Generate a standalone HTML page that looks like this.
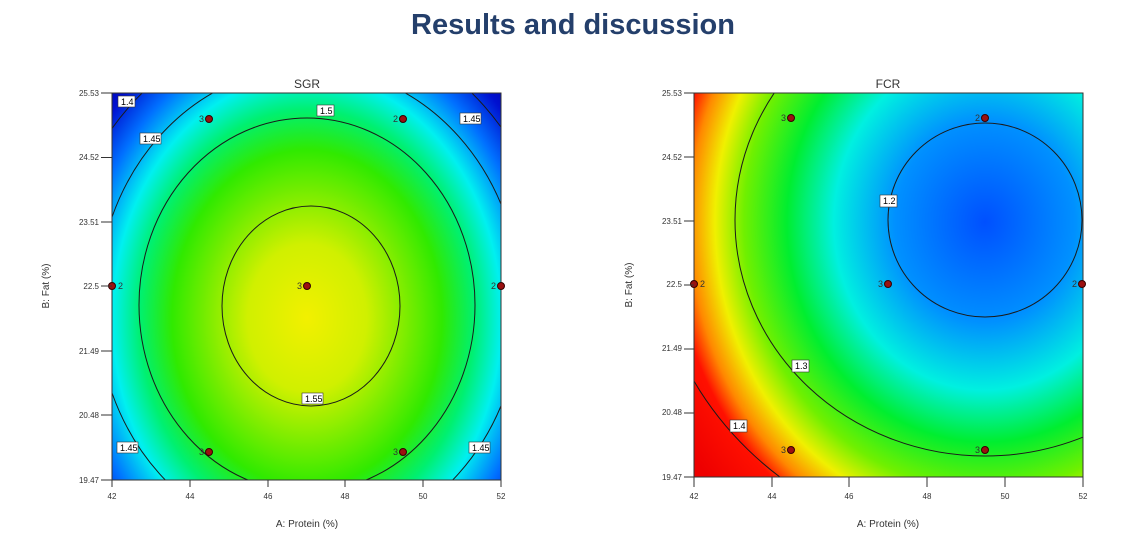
<!DOCTYPE html>
<html><head><meta charset="utf-8"><style>
html,body{margin:0;padding:0;background:#fff;width:1128px;height:541px;overflow:hidden;}
svg{display:block;font-family:"Liberation Sans",sans-serif;}
</style></head><body>
<svg width="1128" height="541" viewBox="0 0 1128 541" xmlns="http://www.w3.org/2000/svg">
<defs>
<radialGradient id="gl" gradientUnits="userSpaceOnUse" cx="307" cy="318" r="300" gradientTransform="translate(307 318) scale(0.9 1.12) translate(-307 -318)">
<stop offset="0" stop-color="#f2f000"/>
<stop offset="0.22" stop-color="#d0f000"/>
<stop offset="0.5" stop-color="#30ea00"/>
<stop offset="0.62" stop-color="#00f070"/>
<stop offset="0.72" stop-color="#00f0f0"/>
<stop offset="0.84" stop-color="#0070ff"/>
<stop offset="0.95" stop-color="#0010d0"/>
<stop offset="1" stop-color="#0008b8"/>
</radialGradient>
<radialGradient id="gr" gradientUnits="userSpaceOnUse" cx="985" cy="222" r="400" gradientTransform="translate(985 222) scale(0.9 1) translate(-985 -222)">
<stop offset="0" stop-color="#0050ff"/>
<stop offset="0.25" stop-color="#0090ff"/>
<stop offset="0.42" stop-color="#00f0e0"/>
<stop offset="0.55" stop-color="#00ee30"/>
<stop offset="0.67" stop-color="#70f000"/>
<stop offset="0.75" stop-color="#f0f000"/>
<stop offset="0.82" stop-color="#ff8800"/>
<stop offset="0.87" stop-color="#ff1000"/>
<stop offset="1" stop-color="#ee0000"/>
</radialGradient>
<clipPath id="cl"><rect x="112" y="93" width="389" height="387"/></clipPath>
<clipPath id="cr"><rect x="694" y="93" width="389" height="384"/></clipPath>
</defs>
<text x="573" y="34" text-anchor="middle" font-size="29" font-weight="bold" fill="#243f6b">Results and discussion</text>

<!-- LEFT -->
<text x="307" y="88" text-anchor="middle" font-size="12" fill="#333">SGR</text>
<rect x="112" y="93" width="389" height="387" fill="url(#gl)"/>
<g clip-path="url(#cl)" fill="none" stroke="#1a1a1a" stroke-width="1">
<ellipse cx="311" cy="306" rx="89" ry="100"/>
<ellipse cx="307" cy="305" rx="168" ry="187"/>
<ellipse cx="309" cy="305" rx="212" ry="238"/>
<ellipse cx="307" cy="305" rx="250" ry="282"/>
</g>
<rect x="112" y="93" width="389" height="387" fill="none" stroke="#333" stroke-width="1"/>
<g font-size="9" fill="#000">
<rect x="118" y="96" width="17" height="11" fill="#fff" stroke="#333" stroke-width="0.6"/><text x="121" y="105">1.4</text>
<rect x="140" y="133" width="21" height="11" fill="#fff" stroke="#333" stroke-width="0.6"/><text x="143" y="142">1.45</text>
<rect x="317" y="105" width="17" height="11" fill="#fff" stroke="#333" stroke-width="0.6"/><text x="320" y="114">1.5</text>
<rect x="460" y="113" width="21" height="11" fill="#fff" stroke="#333" stroke-width="0.6"/><text x="463" y="122">1.45</text>
<rect x="302" y="393" width="21" height="11" fill="#fff" stroke="#333" stroke-width="0.6"/><text x="305" y="402">1.55</text>
<rect x="117" y="442" width="21" height="11" fill="#fff" stroke="#333" stroke-width="0.6"/><text x="120" y="451">1.45</text>
<rect x="469" y="442" width="21" height="11" fill="#fff" stroke="#333" stroke-width="0.6"/><text x="472" y="451">1.45</text>
</g>
<g fill="#9b1010" stroke="#300" stroke-width="1">
<circle cx="209" cy="119" r="3.5"/><circle cx="403" cy="119" r="3.5"/><circle cx="112" cy="286" r="3.5"/><circle cx="307" cy="286" r="3.5"/><circle cx="501" cy="286" r="3.5"/><circle cx="209" cy="452" r="3.5"/><circle cx="403" cy="452" r="3.5"/>
</g>
<g font-size="9" fill="#333">
<text x="199" y="122">3</text><text x="393" y="122">2</text><text x="118" y="289">2</text><text x="297" y="289">3</text><text x="491" y="289">2</text><text x="199" y="455">3</text><text x="393" y="455">3</text>
</g>
<g font-size="8" fill="#333" text-anchor="end">
<text x="99" y="96">25.53</text><text x="99" y="160">24.52</text><text x="99" y="225">23.51</text><text x="99" y="289">22.5</text><text x="99" y="354">21.49</text><text x="99" y="418">20.48</text><text x="99" y="483">19.47</text>
</g>
<g stroke="#333"><line x1="101" y1="93" x2="112" y2="93"/><line x1="101" y1="157.5" x2="112" y2="157.5"/><line x1="101" y1="222" x2="112" y2="222"/><line x1="101" y1="286" x2="112" y2="286"/><line x1="101" y1="351" x2="112" y2="351"/><line x1="101" y1="415" x2="112" y2="415"/><line x1="101" y1="480" x2="112" y2="480"/>
<line x1="112" y1="480" x2="112" y2="487"/><line x1="190" y1="480" x2="190" y2="487"/><line x1="268" y1="480" x2="268" y2="487"/><line x1="345" y1="480" x2="345" y2="487"/><line x1="423" y1="480" x2="423" y2="487"/><line x1="501" y1="480" x2="501" y2="487"/></g>
<g font-size="8" fill="#333" text-anchor="middle">
<text x="112" y="499">42</text><text x="190" y="499">44</text><text x="268" y="499">46</text><text x="345" y="499">48</text><text x="423" y="499">50</text><text x="501" y="499">52</text>
</g>
<text x="307" y="527" text-anchor="middle" font-size="10" fill="#333">A: Protein (%)</text>
<text transform="translate(49 286) rotate(-90)" text-anchor="middle" font-size="10" fill="#333">B: Fat (%)</text>

<!-- RIGHT -->
<text x="888" y="88" text-anchor="middle" font-size="12" fill="#333">FCR</text>
<rect x="694" y="93" width="389" height="384" fill="url(#gr)"/>
<g clip-path="url(#cr)" fill="none" stroke="#1a1a1a" stroke-width="1">
<circle cx="985" cy="220" r="97"/>
<ellipse cx="985" cy="220" rx="250" ry="236"/>
<ellipse cx="985" cy="220" rx="335" ry="325"/>
</g>
<rect x="694" y="93" width="389" height="384" fill="none" stroke="#333" stroke-width="1"/>
<g font-size="9" fill="#000">
<rect x="880" y="195" width="17" height="12" fill="#fff" stroke="#333" stroke-width="0.6"/><text x="883" y="204">1.2</text>
<rect x="792" y="360" width="17" height="12" fill="#fff" stroke="#333" stroke-width="0.6"/><text x="795" y="369">1.3</text>
<rect x="730" y="420" width="17" height="12" fill="#fff" stroke="#333" stroke-width="0.6"/><text x="733" y="429">1.4</text>
</g>
<g fill="#9b1010" stroke="#300" stroke-width="1">
<circle cx="791" cy="118" r="3.5"/><circle cx="985" cy="118" r="3.5"/><circle cx="694" cy="284" r="3.5"/><circle cx="888" cy="284" r="3.5"/><circle cx="1082" cy="284" r="3.5"/><circle cx="791" cy="450" r="3.5"/><circle cx="985" cy="450" r="3.5"/>
</g>
<g font-size="9" fill="#333">
<text x="781" y="121">3</text><text x="975" y="121">2</text><text x="700" y="287">2</text><text x="878" y="287">3</text><text x="1072" y="287">2</text><text x="781" y="453">3</text><text x="975" y="453">3</text>
</g>
<g font-size="8" fill="#333" text-anchor="end">
<text x="682" y="96">25.53</text><text x="682" y="160">24.52</text><text x="682" y="224">23.51</text><text x="682" y="287">22.5</text><text x="682" y="351">21.49</text><text x="682" y="415">20.48</text><text x="682" y="480">19.47</text>
</g>
<g stroke="#333"><line x1="684" y1="93" x2="694" y2="93"/><line x1="684" y1="157" x2="694" y2="157"/><line x1="684" y1="221" x2="694" y2="221"/><line x1="684" y1="285" x2="694" y2="285"/><line x1="684" y1="349" x2="694" y2="349"/><line x1="684" y1="413" x2="694" y2="413"/><line x1="684" y1="477" x2="694" y2="477"/>
<line x1="694" y1="477" x2="694" y2="487"/><line x1="772" y1="477" x2="772" y2="487"/><line x1="849" y1="477" x2="849" y2="487"/><line x1="927" y1="477" x2="927" y2="487"/><line x1="1005" y1="477" x2="1005" y2="487"/><line x1="1083" y1="477" x2="1083" y2="487"/></g>
<g font-size="8" fill="#333" text-anchor="middle">
<text x="694" y="499">42</text><text x="772" y="499">44</text><text x="849" y="499">46</text><text x="927" y="499">48</text><text x="1005" y="499">50</text><text x="1083" y="499">52</text>
</g>
<text x="888" y="527" text-anchor="middle" font-size="10" fill="#333">A: Protein (%)</text>
<text transform="translate(632 285) rotate(-90)" text-anchor="middle" font-size="10" fill="#333">B: Fat (%)</text>
</svg>
</body></html>
